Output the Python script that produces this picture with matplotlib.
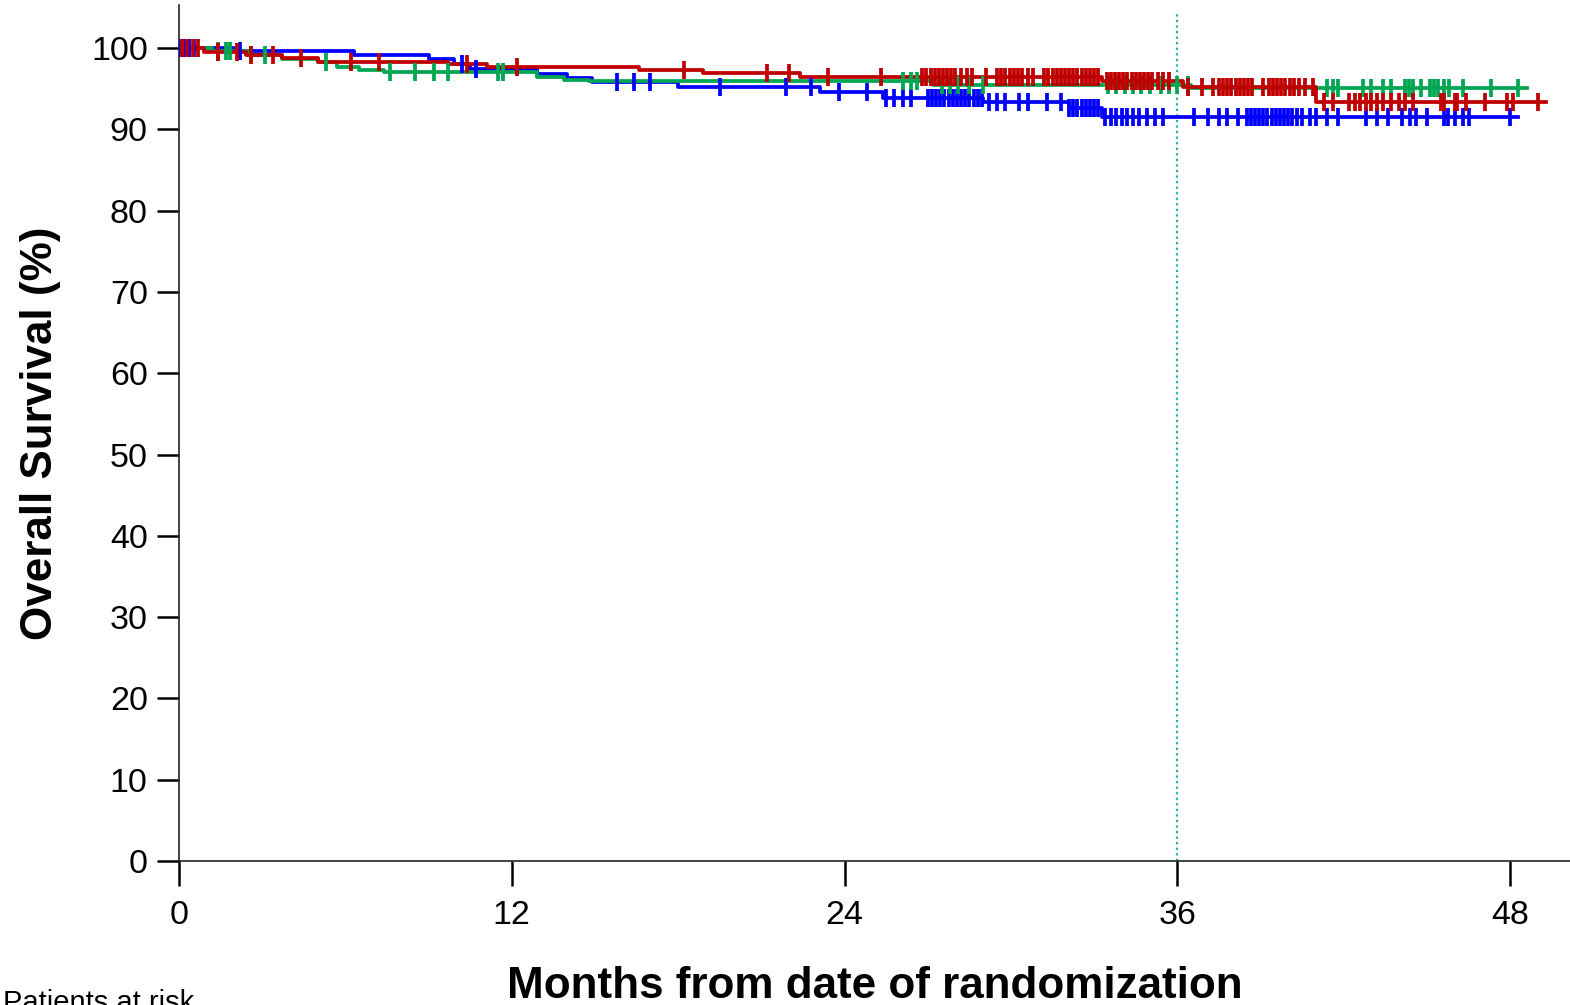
import numpy as np
import matplotlib
matplotlib.use("Agg")
import matplotlib.pyplot as plt

plt.rcParams['font.family'] = ['Liberation Sans', 'DejaVu Sans']

# Kaplan-Meier steps (months, % surviving after the step)
blue_times = [0, 2.0, 6.3, 9.0, 9.9, 10.5, 12.9, 14.0, 14.9, 18.0, 23.1, 25.4, 29.0, 32.1, 33.3]
blue_surv = [100, 99.7, 99.1, 98.6, 98.0, 97.4, 96.8, 96.3, 95.8, 95.2, 94.6, 93.9, 93.4, 92.6, 91.5]
blue_end = 48.3
blue_cens = [0.05, 0.2, 0.35, 0.55, 2.2, 10.2, 10.7, 15.8, 16.4, 17.0, 19.5, 21.9, 22.8, 23.8,
             24.8, 25.5, 25.8, 26.1, 26.4, 27.0, 27.15, 27.3, 27.45, 27.6, 27.75, 27.9, 28.05,
             28.2, 28.35, 28.5, 28.65, 28.8, 28.95, 29.2, 29.5, 29.8, 30.3, 30.6, 31.3, 31.8,
             32.1, 32.25, 32.4, 32.55, 32.7, 32.85, 33.0, 33.15, 33.4, 33.6, 33.8, 34.0, 34.2,
             34.4, 34.6, 34.9, 35.2, 35.5, 36.6, 37.1, 37.5, 37.8, 38.2, 38.5, 38.65, 38.8,
             38.95, 39.1, 39.25, 39.4, 39.55, 39.7, 39.85, 40.0, 40.15, 40.3, 40.5, 40.8, 41.0,
             41.4, 41.8, 42.8, 43.2, 43.6, 44.1, 44.4, 44.6, 45.0, 45.6, 45.75, 46.0, 46.3,
             46.5, 48.0]

green_times = [0, 1.2, 2.6, 3.7, 5.0, 5.7, 6.5, 7.4, 12.9, 13.9, 14.8, 27.2, 36.5]
green_surv = [100, 99.6, 99.2, 98.7, 98.3, 97.7, 97.3, 97.0, 96.5, 96.1, 95.9, 95.5, 95.1]
green_end = 48.6
green_cens = [1.4, 1.7, 1.85, 2.6, 3.1, 5.3, 7.6, 8.5, 9.2, 9.7, 11.5, 11.7, 26.1, 26.4, 26.6,
              27.5, 27.8, 28.1, 28.5, 29.0, 33.5, 33.8, 34.1, 34.4, 34.7, 35.0, 35.4, 35.7,
              36.0, 36.4, 41.4, 41.6, 41.8, 42.7, 43.0, 43.4, 43.7, 44.2, 44.35, 44.5, 44.8,
              45.1, 45.25, 45.4, 45.6, 45.8, 46.3, 47.3, 48.3]

red_times = [0, 0.9, 2.4, 3.7, 5.0, 9.7, 11.1, 16.6, 18.9, 22.4, 33.3, 36.2, 41.0]
red_surv = [100, 99.5, 99.2, 98.8, 98.3, 98.0, 97.7, 97.3, 96.9, 96.5, 95.9, 95.2, 93.4]
red_end = 49.3
red_cens = [0.1, 0.3, 0.5, 0.7, 1.4, 2.1, 2.6, 3.4, 4.4, 6.2, 7.2, 10.4, 12.2, 18.2, 21.2, 22.0,
            23.4, 25.3, 26.8, 26.95, 27.1, 27.25, 27.4, 27.55, 27.7, 27.85, 28.0, 28.2, 28.4,
            28.6, 29.1, 29.5, 29.65, 29.8, 29.95, 30.1, 30.25, 30.4, 30.6, 30.8, 31.2, 31.35,
            31.5, 31.65, 31.8, 31.95, 32.1, 32.25, 32.4, 32.55, 32.7, 32.85, 33.0, 33.15,
            33.45, 33.6, 33.75, 33.9, 34.05, 34.2, 34.35, 34.5, 34.65, 34.8, 34.95, 35.1,
            35.3, 35.5, 35.7, 36.4, 36.9, 37.3, 37.5, 37.65, 37.8, 37.95, 38.1, 38.25, 38.4,
            38.55, 38.7, 39.1, 39.3, 39.45, 39.6, 39.75, 39.9, 40.05, 40.2, 40.4, 40.6, 40.9,
            41.3, 41.6, 42.2, 42.4, 42.6, 42.8, 43.0, 43.2, 43.4, 43.7, 44.0, 44.2, 44.5,
            45.5, 45.6, 46.0, 46.1, 46.4, 47.1, 47.9, 48.1, 49.0]

x_ticks = [0, 12, 24, 36, 48]
y_ticks = [0, 10, 20, 30, 40, 50, 60, 70, 80, 90, 100]
landmark = 36

curves = [
    (blue_times, blue_surv, blue_end, blue_cens, '#0000ff'),
    (green_times, green_surv, green_end, green_cens, '#00a651'),
    (red_times, red_surv, red_end, red_cens, '#c00000'),
]

fig = plt.figure(figsize=(15.7, 10.05), dpi=100)
ax = fig.add_axes([179 / 1570, 144 / 1005, 1391 / 1570, 856 / 1005])

ax.vlines(landmark, 0, 104.2, colors='#20b2aa', linestyles=(0, (1, 1.5)), linewidth=1.6, zorder=1)

for times, surv, end, cens, color in curves:
    t = np.array(times + [end])
    s = np.array(surv + [surv[-1]])
    ax.step(t, s, where='post', color=color, linewidth=2.7, zorder=2)
    c = np.array(cens)
    idx = np.searchsorted(np.array(times), c, side='right') - 1
    ax.plot(c, np.array(surv)[idx], linestyle='none', marker='|', markersize=13,
            markeredgewidth=2.7, color=color, zorder=3)

ax.set_xlim(0, 50.16)
ax.set_ylim(0, 105.3)
ax.set_xticks(x_ticks)
ax.set_yticks(y_ticks)

for side in ['top', 'right']:
    ax.spines[side].set_visible(False)
for side in ['left', 'bottom']:
    ax.spines[side].set_linewidth(1.2)
    ax.spines[side].set_color('#222222')

ax.tick_params(axis='x', length=18, width=1.8, pad=10, labelsize=24.5, direction='out')
ax.tick_params(axis='y', length=15.5, width=1.8, pad=7, labelsize=24.5, direction='out')

ax.set_xlabel('Months from date of randomization', fontsize=31.7, fontweight='bold')
ax.xaxis.set_label_coords(0.5, (861 - 998) / 856)
ax.xaxis.label.set_verticalalignment('baseline')

ax.set_ylabel('Overall Survival (%)', fontsize=31.7, fontweight='bold')
ax.yaxis.set_label_coords((52 - 179) / 1391, 0.5)
ax.yaxis.label.set_verticalalignment('baseline')

fig.text(3 / 1570, (1005 - 1011) / 1005, 'Patients at risk', fontsize=21, va='baseline', ha='left')

fig.savefig('out.png', dpi=100)
